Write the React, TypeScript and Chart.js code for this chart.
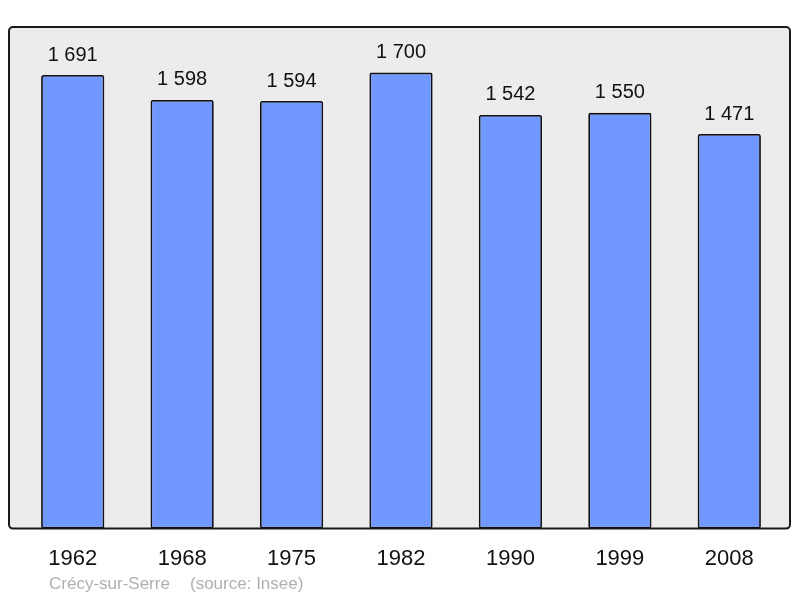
import React, { useEffect, useRef } from "react";
import { Chart, registerables } from "chart.js";

Chart.register(...registerables);

const years = ["1962", "1968", "1975", "1982", "1990", "1999", "2008"];
const population = [1691, 1598, 1594, 1700, 1542, 1550, 1471];
const valueLabels = ["1 691", "1 598", "1 594", "1 700", "1 542", "1 550", "1 471"];
const footerName = "Crécy-sur-Serre";
const footerSource = "(source: Insee)";

const FONT = "'Liberation Sans', Arial, sans-serif";

const framePlugin = {
  id: "frame",
  beforeDraw(chart: any) {
    const { ctx, chartArea } = chart;
    const x = chartArea.left - 9;
    const y = chartArea.top;
    const w = chartArea.right - chartArea.left + 15;
    const h = chartArea.bottom - chartArea.top;
    ctx.save();
    ctx.beginPath();
    if (ctx.roundRect) ctx.roundRect(x, y, w, h, 4);
    else ctx.rect(x, y, w, h);
    ctx.fillStyle = "#ececec";
    ctx.fill();
    ctx.lineWidth = 2;
    ctx.strokeStyle = "#1a1a1a";
    ctx.stroke();
    ctx.restore();
  },
  afterDatasetsDraw(chart: any) {
    const { ctx } = chart;
    const meta = chart.getDatasetMeta(0);
    ctx.save();
    ctx.font = `20px ${FONT}`;
    ctx.fillStyle = "#111";
    ctx.textAlign = "center";
    ctx.textBaseline = "middle";
    meta.data.forEach((bar: any, i: number) => {
      ctx.fillText(valueLabels[i], bar.x, bar.y - 20);
    });
    ctx.font = `17px ${FONT}`;
    ctx.fillStyle = "#b0b0b0";
    ctx.textAlign = "left";
    ctx.fillText(footerName, 49, 584);
    ctx.fillText(footerSource, 190, 584);
    ctx.restore();
  },
};

export default function App() {
  const ref = useRef<HTMLCanvasElement | null>(null);
  useEffect(() => {
    if (!ref.current) return;
    const chart = new Chart(ref.current, {
      type: "bar",
      data: {
        labels: years,
        datasets: [
          {
            data: population,
            backgroundColor: "#7098ff",
            borderColor: "#111",
            borderWidth: 1.8,
            borderRadius: 2,
            borderSkipped: false,
            barPercentage: 0.578,
            categoryPercentage: 1,
          },
        ],
      },
      options: {
        animation: false,
        responsive: false,
        maintainAspectRatio: false,
        layout: { padding: { left: 18, right: 16, top: 27, bottom: 9 } },
        plugins: { legend: { display: false }, tooltip: { enabled: false } },
        scales: {
          x: {
            grid: { display: false, drawTicks: false },
            border: { display: false },
            ticks: { color: "#111", font: { size: 22, family: FONT }, padding: 17 },
          },
          y: {
            display: false,
            min: 0,
            max: 1870,
          },
        },
      },
      plugins: [framePlugin],
    });
    return () => chart.destroy();
  }, []);
  return (
    <div style={{ position: "fixed", left: 0, top: 0, width: 800, height: 598, background: "#fff" }}>
      <canvas ref={ref} width={800} height={598} style={{ display: "block" }} />
    </div>
  );
}
